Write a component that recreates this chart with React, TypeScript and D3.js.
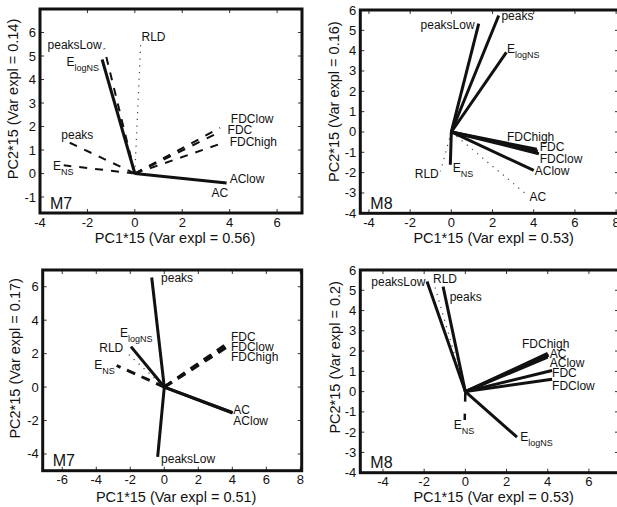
import React from 'react';
import * as d3 from 'd3';

const FONT = '"Liberation Sans", Arial, Helvetica, sans-serif';

// ---------- Panel 1: M7 (top) ----------
const p1Names = ['peaksLow', 'E_logNS', 'RLD', 'peaks', 'E_NS', 'FDClow', 'FDC', 'FDChigh', 'AClow', 'AC'];
const p1PC1 = [-1.29, -1.38, 0.25, -2.81, -3.0, 3.59, 3.6, 3.76, 3.87, 3.6];
const p1PC2 = [5.32, 4.85, 5.6, 1.34, 0.35, 1.94, 1.77, 1.32, -0.4, -0.38];
const p1Style = ['dashed', 'solid', 'dotted', 'dashed', 'dashed', 'dashed', 'dashed', 'dashed', 'solid', 'dotted'];
const p1LabelPC1 = [-1.4, -2.88, 0.28, -3.1, -3.45, 4.05, 3.91, 4.0, 4.0, 3.23];
const p1LabelPC2 = [5.46, 4.75, 5.81, 1.63, 0.32, 2.34, 1.87, 1.35, -0.21, -0.82];
const p1LabelAnchor = ['end', 'start', 'start', 'start', 'start', 'start', 'start', 'start', 'start', 'start'];
const p1XTicks = [-4, -2, 0, 2, 4, 6];
const p1YTicks = [-1, 0, 1, 2, 3, 4, 5, 6];
const p1Model = 'M7';
const p1VarPC1 = '0.56';
const p1VarPC2 = '0.14';

// ---------- Panel 2: M8 (top) ----------
const p2Names = ['peaksLow', 'peaks', 'E_logNS', 'FDChigh', 'FDC', 'FDClow', 'AClow', 'AC', 'RLD', 'E_NS'];
const p2PC1 = [1.33, 2.3, 2.67, 4.15, 4.2, 4.25, 4.0, 3.67, -0.53, -0.05];
const p2PC2 = [5.33, 5.73, 3.92, -0.85, -0.95, -1.07, -1.89, -3.09, -1.94, -1.61];
const p2Style = ['solid', 'solid', 'solid', 'solid', 'solid', 'solid', 'solid', 'dotted', 'dotted', 'solid'];
const p2LabelPC1 = [1.13, 2.43, 2.7, 2.7, 4.29, 4.29, 4.05, 3.8, -0.61, 0.07];
const p2LabelPC2 = [5.29, 5.7, 4.09, -0.22, -0.74, -1.33, -1.89, -3.2, -2.05, -1.77];
const p2LabelAnchor = ['end', 'start', 'start', 'start', 'start', 'start', 'start', 'start', 'end', 'start'];
const p2XTicks = [-4, -2, 0, 2, 4, 6, 8];
const p2YTicks = [-4, -3, -2, -1, 0, 1, 2, 3, 4, 5, 6];
const p2Model = 'M8';
const p2VarPC1 = '0.53';
const p2VarPC2 = '0.16';

// ---------- Panel 3: M7 (bottom) ----------
const p3Names = ['peaks', 'peaksLow', 'E_logNS', 'RLD', 'E_NS', 'FDC', 'FDClow', 'FDChigh', 'AC', 'AClow'];
const p3PC1 = [-0.74, -0.39, -1.96, -2.08, -2.8, 3.62, 3.67, 3.72, 4.02, 4.0];
const p3PC2 = [6.55, -4.17, 2.42, 1.93, 1.29, 2.55, 2.48, 2.41, -1.55, -1.52];
const p3Style = ['solid', 'solid', 'solid', 'dotted', 'dashed', 'dashed', 'dashed', 'dashed', 'solid', 'solid'];
const p3LabelPC1 = [-0.19, -0.19, -2.6, -2.41, -4.12, 3.92, 3.92, 3.92, 4.06, 4.06];
const p3LabelPC2 = [6.55, -4.26, 3.27, 2.32, 1.35, 3.02, 2.42, 1.83, -1.35, -2.02];
const p3LabelAnchor = ['start', 'start', 'start', 'end', 'start', 'start', 'start', 'start', 'start', 'start'];
const p3XTicks = [-6, -4, -2, 0, 2, 4, 6, 8];
const p3YTicks = [-4, -2, 0, 2, 4, 6];
const p3Model = 'M7';
const p3VarPC1 = '0.51';
const p3VarPC2 = '0.17';

// ---------- Panel 4: M8 (bottom) ----------
const p4Names = ['peaksLow', 'RLD', 'peaks', 'FDChigh', 'AC', 'AClow', 'FDC', 'FDClow', 'E_NS', 'E_logNS'];
const p4PC1 = [-1.86, -1.53, -1.08, 4.0, 4.05, 4.0, 4.21, 4.21, -0.03, 2.51];
const p4PC2 = [5.43, 5.35, 5.18, 1.89, 1.8, 1.7, 1.04, 0.61, -1.4, -2.25];
const p4Style = ['solid', 'dotted', 'solid', 'solid', 'solid', 'solid', 'solid', 'solid', 'dashedLong', 'solid'];
const p4LabelPC1 = [-1.94, -1.57, -0.76, 2.75, 4.1, 4.1, 4.21, 4.21, -0.56, 2.67];
const p4LabelPC2 = [5.4, 5.59, 4.69, 2.35, 1.89, 1.4, 0.91, 0.28, -1.64, -2.22];
const p4LabelAnchor = ['end', 'start', 'start', 'start', 'start', 'start', 'start', 'start', 'start', 'start'];
const p4XTicks = [-4, -2, 0, 2, 4, 6];
const p4YTicks = [-4, -3, -2, -1, 0, 1, 2, 3, 4, 5, 6];
const p4Model = 'M8';
const p4VarPC1 = '0.53';
const p4VarPC2 = '0.2';

// ---------- layout (pixel frames and axis limits) ----------
const layouts = [
  { left: 40, right: 302, top: 9, bottom: 213, xDom: [-4.0, 7.05], yDom: [-1.68, 7.0], xlabY: 238, ylabX: 13, ylabDy: -12 },
  { left: 360.3, right: 619, top: 10, bottom: 213.3, xDom: [-4.42, 8.14], yDom: [-4, 6], xlabY: 238, ylabX: 334, ylabDy: -10 },
  { left: 42.7, right: 301.7, top: 270, bottom: 470.7, xDom: [-7.15, 8.08], yDom: [-5, 7], xlabY: 496.5, ylabX: 15, ylabDy: -12 },
  { left: 360.3, right: 619, top: 270, bottom: 472.7, xDom: [-5.1, 7.46], yDom: [-4, 6], xlabY: 496.5, ylabX: 335, ylabDy: -14 },
];

const panels = [
  { names: p1Names, pc1: p1PC1, pc2: p1PC2, style: p1Style, lx: p1LabelPC1, ly: p1LabelPC2, la: p1LabelAnchor, xt: p1XTicks, yt: p1YTicks, model: p1Model, v1: p1VarPC1, v2: p1VarPC2 },
  { names: p2Names, pc1: p2PC1, pc2: p2PC2, style: p2Style, lx: p2LabelPC1, ly: p2LabelPC2, la: p2LabelAnchor, xt: p2XTicks, yt: p2YTicks, model: p2Model, v1: p2VarPC1, v2: p2VarPC2 },
  { names: p3Names, pc1: p3PC1, pc2: p3PC2, style: p3Style, lx: p3LabelPC1, ly: p3LabelPC2, la: p3LabelAnchor, xt: p3XTicks, yt: p3YTicks, model: p3Model, v1: p3VarPC1, v2: p3VarPC2 },
  { names: p4Names, pc1: p4PC1, pc2: p4PC2, style: p4Style, lx: p4LabelPC1, ly: p4LabelPC2, la: p4LabelAnchor, xt: p4XTicks, yt: p4YTicks, model: p4Model, v1: p4VarPC1, v2: p4VarPC2 },
];

function styleProps(s: string, panelIdx: number) {
  if (s === 'solid') return { stroke: '#111', strokeWidth: 3, strokeDasharray: undefined as string | undefined };
  if (s === 'dotted') return { stroke: '#444', strokeWidth: 1.2, strokeDasharray: '1.2,5.5' };
  if (s === 'dashedLong') return { stroke: '#111', strokeWidth: 2.5, strokeDasharray: '10,12' };
  return { stroke: '#111', strokeWidth: panelIdx === 2 ? 3 : 2, strokeDasharray: panelIdx === 2 ? '9,7' : '8,8' };
}

function Label({ name, x, y, anchor }: { name: string; x: number; y: number; anchor: string }) {
  const fs = 12;
  const base = y + fs * 0.35;
  if (name.startsWith('E_')) {
    const sub = name.slice(2);
    return (
      <text x={x} y={base} textAnchor={anchor} fontSize={fs} fontFamily={FONT} fill="#111">
        E<tspan fontSize={9} dy={5}>{sub}</tspan>
      </text>
    );
  }
  return (
    <text x={x} y={base} textAnchor={anchor} fontSize={fs} fontFamily={FONT} fill="#111">
      {name}
    </text>
  );
}

function Panel({ idx }: { idx: number }) {
  const L = layouts[idx];
  const P = panels[idx];
  const xs = d3.scaleLinear().domain(L.xDom).range([L.left, L.right]);
  const ys = d3.scaleLinear().domain(L.yDom).range([L.bottom, L.top]);
  const x0 = xs(0);
  const y0 = ys(0);
  const cx = (L.left + L.right) / 2;
  const cy = (L.top + L.bottom) / 2;
  const tl = 4;
  // draw order: dotted first, then dashed, then solid
  const order = P.names.map((_, i) => i).sort((a, b) => {
    const rank = (s: string) => (s === 'dotted' ? 0 : s === 'solid' ? 2 : 1);
    return rank(P.style[a]) - rank(P.style[b]);
  });
  return (
    <g>
      {/* ticks */}
      {P.xt.map((t) => (
        <g key={'xt' + t}>
          <line x1={xs(t)} x2={xs(t)} y1={L.bottom} y2={L.bottom - tl} stroke="#333" strokeWidth={1} />
          <line x1={xs(t)} x2={xs(t)} y1={L.top} y2={L.top + tl} stroke="#333" strokeWidth={1} />
          <text x={xs(t)} y={L.bottom + 9 + 4.5} textAnchor="middle" fontSize={13} fontFamily={FONT} fill="#111">
            {t}
          </text>
        </g>
      ))}
      {P.yt.map((t) => (
        <g key={'yt' + t}>
          <line x1={L.left} x2={L.left + tl} y1={ys(t)} y2={ys(t)} stroke="#333" strokeWidth={1} />
          <line x1={L.right} x2={L.right - tl} y1={ys(t)} y2={ys(t)} stroke="#333" strokeWidth={1} />
          <text x={L.left - 4} y={ys(t) + 4.5} textAnchor="end" fontSize={13} fontFamily={FONT} fill="#111">
            {t}
          </text>
        </g>
      ))}
      {/* vectors */}
      {order.map((i) => {
        const sp = styleProps(P.style[i], idx);
        return (
          <line
            key={'v' + i}
            x1={x0}
            y1={y0}
            x2={xs(P.pc1[i])}
            y2={ys(P.pc2[i])}
            stroke={sp.stroke}
            strokeWidth={sp.strokeWidth}
            strokeDasharray={sp.strokeDasharray}
            strokeLinecap="butt"
          />
        );
      })}
      {/* labels */}
      {P.names.map((n, i) => (
        <Label key={'l' + i} name={n} x={xs(P.lx[i])} y={ys(P.ly[i])} anchor={P.la[i]} />
      ))}
      {/* model tag */}
      <text x={L.left + 10} y={L.bottom - 10 + 5.5} fontSize={16} fontFamily={FONT} fill="#111">
        {P.model}
      </text>
      {/* frame */}
      <rect x={L.left} y={L.top} width={L.right - L.left} height={L.bottom - L.top} fill="none" stroke="#111" strokeWidth={3} />
      {/* axis labels */}
      <text x={cx + 4} y={L.xlabY + 5} textAnchor="middle" fontSize={14.5} fontFamily={FONT} fill="#111">
        {`PC1*15 (Var expl = ${P.v1})`}
      </text>
      <text
        transform={`translate(${L.ylabX},${cy + L.ylabDy}) rotate(-90)`}
        textAnchor="middle"
        y={5}
        fontSize={14.5}
        fontFamily={FONT}
        fill="#111"
      >
        {`PC2*15 (Var expl = ${P.v2})`}
      </text>
    </g>
  );
}

export default function App() {
  return (
    <svg
      width={617}
      height={507}
      viewBox="0 0 617 507"
      style={{ position: 'absolute', left: 0, top: 0, background: '#fff' }}
    >
      <rect x={0} y={0} width={617} height={507} fill="#fff" />
      {[0, 1, 2, 3].map((i) => (
        <Panel key={i} idx={i} />
      ))}
    </svg>
  );
}
